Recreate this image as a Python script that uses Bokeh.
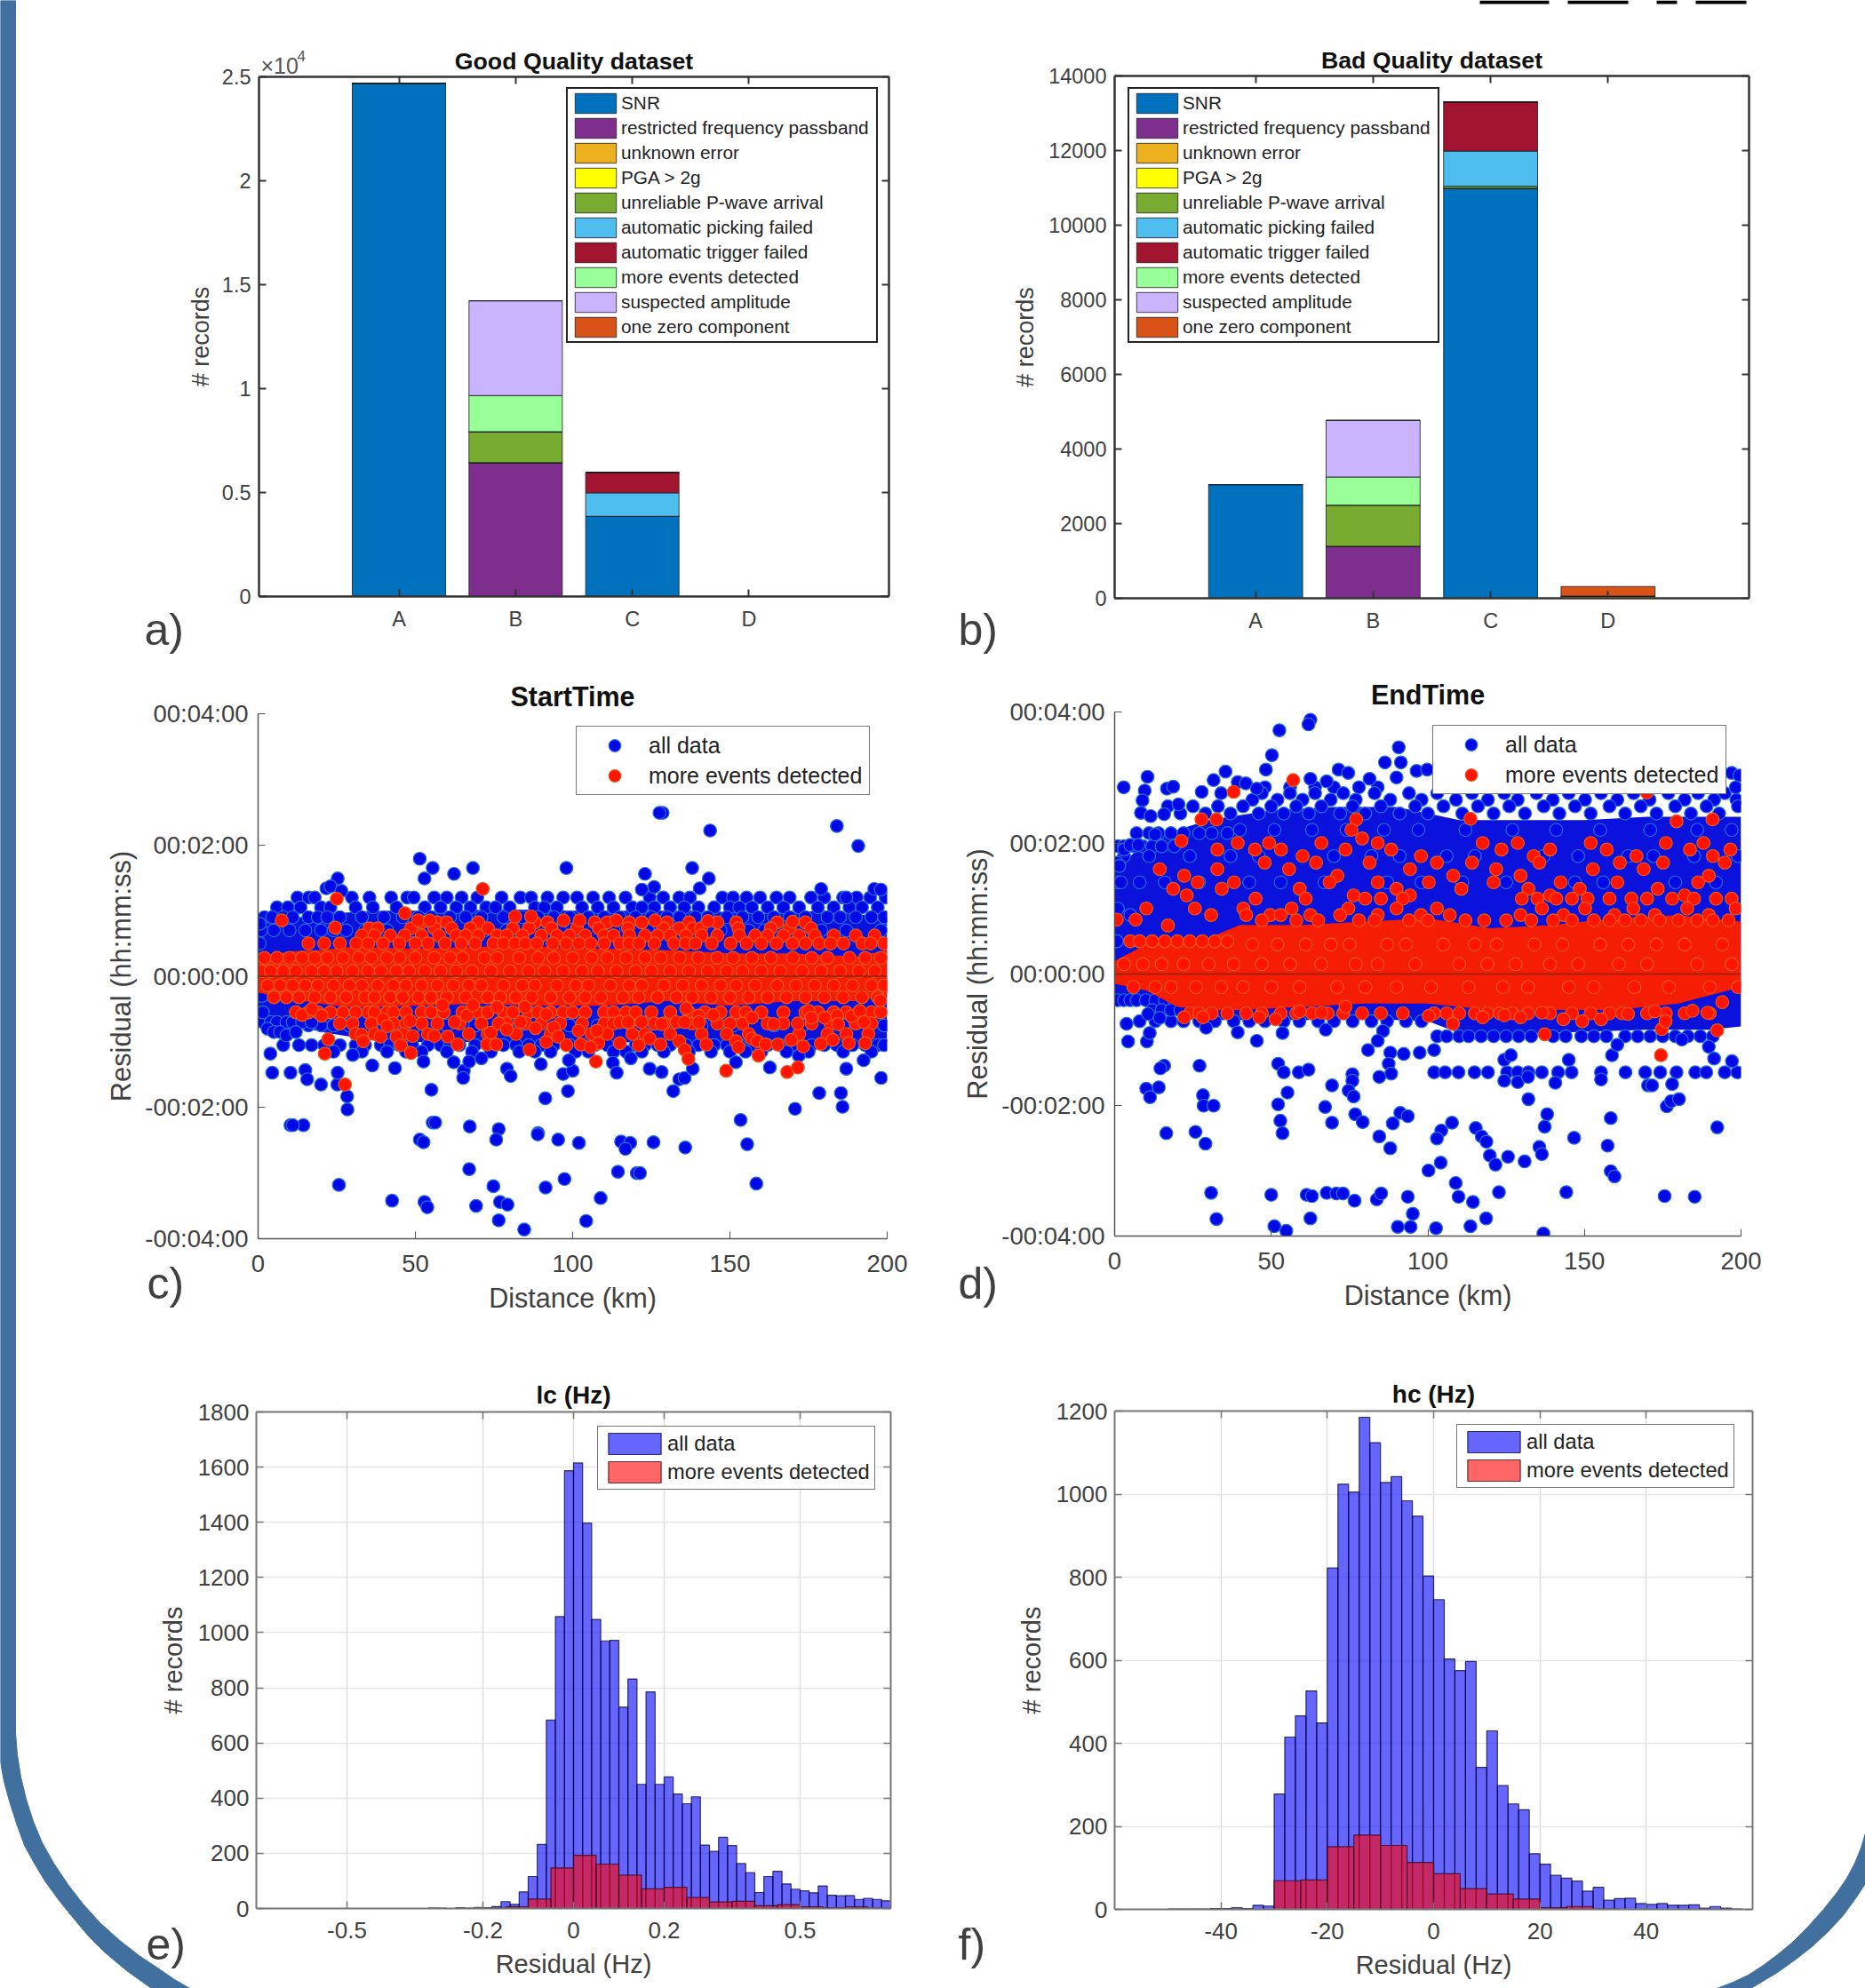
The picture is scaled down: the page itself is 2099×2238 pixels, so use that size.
from bokeh.plotting import figure
from bokeh.models import (Range1d, FixedTicker, LinearAxis, Legend, LegendItem, Span)
from bokeh.embed import file_html
from bokeh.resources import INLINE
from bokeh.core.properties import value
import numpy as np

FONT = "Liberation Sans"
# ---------------- stacked bars ----------------
cats = ["A", "B", "C", "D"]
reasons = ["SNR", "restricted frequency passband", "unknown error", "PGA > 2g", "unreliable P-wave arrival",
           "automatic picking failed", "automatic trigger failed", "more events detected", "suspected amplitude",
           "one zero component"]
reason_colors = ["#0072BD", "#7E2F8E", "#EDB120", "#FFFF00", "#77AC30", "#4DBEEE", "#A2142F", "#99FF99", "#CBB4FF", "#D95319"]
good_snr = [24697, 0, 3854, 0]
good_restricted = [0, 6437, 0, 0]
good_unknown = [0, 0, 0, 0]
good_pga = [0, 0, 0, 0]
good_unreliable = [0, 1493, 0, 0]
good_picking = [0, 0, 1130, 0]
good_trigger = [0, 0, 989, 0]
good_more = [0, 1735, 0, 0]
good_suspected = [0, 4560, 0, 0]
good_zero = [0, 0, 0, 0]
bad_snr = [3047, 0, 10986, 0]
bad_restricted = [0, 1394, 0, 0]
bad_unknown = [0, 0, 0, 60]
bad_pga = [0, 0, 0, 0]
bad_unreliable = [0, 1102, 57, 0]
bad_picking = [0, 0, 944, 0]
bad_trigger = [0, 0, 1316, 0]
bad_more = [0, 754, 0, 0]
bad_suspected = [0, 1518, 0, 0]
bad_zero = [0, 0, 0, 255]
good_ticks = [0, 5000, 10000, 15000, 20000, 25000]
good_labels = ["0", "0.5", "1", "1.5", "2", "2.5"]
bad_ticks = [0, 2000, 4000, 6000, 8000, 10000, 12000, 14000]

# ---------------- histograms ----------------
lc_all = [0]*19 + [2, 1, 0, 3, 1, 4, 3, 7, 25, 15, 60, 116, 232, 683, 1058, 1587, 1615, 1397, 1048, 970, 972, 730, 832, 450, 785,
          450, 477, 415, 380, 405, 230, 207, 258, 228, 163, 130, 58, 116, 135, 89, 70, 64, 57, 82, 48, 46, 47, 33, 37, 33, 28]
lc_more = [0]*10 + [1, 6, 34, 147, 193, 161, 121, 71, 77, 40, 24, 26, 10, 14, 6, 3, 6, 1]
hc_all = [0]*5 + [1, 1, 1, 1, 2, 2, 4, 2, 10, 8, 278, 415, 466, 526, 449, 822, 1024, 1005, 1185, 1124, 1028, 1042, 984, 947, 803,
          746, 603, 575, 597, 342, 430, 298, 254, 240, 134, 109, 82, 75, 68, 44, 53, 22, 26, 27, 14, 12, 14, 10, 10, 11, 3, 7, 3, 1, 0, 0]
hc_more = [0, 0, 0, 0, 0, 0, 69, 71, 151, 179, 154, 113, 86, 50, 37, 25, 4, 7, 1, 0, 0, 0, 0, 0]
lc_ticks = [-0.5, -0.2, 0, 0.2, 0.5]
lc_tick_labels = ["-0.5", "-0.2", "0", "0.2", "0.5"]
hc_ticks = [-40, -20, 0, 20, 40]

# ---------------- scatter panels (distance km, residual in minutes) ----------------
c_core_x = [0, 20, 40, 60, 80, 100, 120, 140, 160, 180, 200]
c_core_hi = [0.8, 0.95, 1.0, 1.0, 1.02, 1.0, 1.0, 1.0, 0.95, 1.0, 0.9]
c_core_lo = [-0.6, -0.85, -1.0, -1.0, -1.0, -1.05, -1.0, -1.05, -1.0, -1.0, -1.0]
c_red_core_x = [0, 10, 20, 30, 50, 70, 90, 110, 130, 150, 170, 190, 200]
c_red_core_hi = [0.28, 0.38, 0.4, 0.45, 0.42, 0.45, 0.45, 0.42, 0.4, 0.35, 0.35, 0.3, 0.4]
c_red_core_lo = [-0.25, -0.35, -0.42, -0.48, -0.45, -0.42, -0.45, -0.45, -0.38, -0.45, -0.38, -0.38, -0.3]
c_blue_row_120 = [12.5, 16.1, 18, 29.8, 35.4, 42.3, 47.4, 49.5, 56, 60, 64.7, 69.7, 77.4, 83.4, 86.8, 92, 97, 101.4, 106.5, 111.6,
                  116.8, 124.5, 128.8, 133.9, 137.3, 147.6, 151, 155.3, 159.6, 164.8, 169, 175.8, 180, 186, 190.3, 194.6, 199.5]
c_blue_row_105 = [6, 9.5, 13.5, 20, 23, 31, 36.5, 44, 53, 58, 63, 67.5, 72.5, 75.5, 80, 88, 91, 95, 103, 108, 113, 119, 122, 126, 131,
                  135.5, 140, 145, 150, 153, 157, 162, 167, 172, 178, 183, 188, 192, 197]
c_blue_row_090 = [2, 4.5, 8, 11, 16, 19, 22, 26, 33, 40, 46, 51, 55, 61, 66, 71, 78, 84, 89, 94, 99, 105, 110, 115, 120, 125, 130, 134,
                  139, 143, 149, 154, 159, 164, 169, 174, 181, 185, 190, 195, 199]
c_blue_row_070 = [1, 5, 10, 15, 20, 24, 28, 34, 41, 49, 58, 72, 79, 96, 113, 124, 147, 156, 161, 179, 187, 198]
c_blue_row_m075 = [3, 7, 11, 16, 20, 24, 29, 40, 50, 60, 69, 83, 99, 108, 124, 141, 151, 164, 173, 186, 199]
c_blue_row_m070 = [1.5, 4, 6, 9, 11, 14, 17]
c_blue_left = [0.5, 0.5, 1, 1.2, 1.5, 3, 5, 7, 9, 12]
c_blue_left_y = [0.8, 0.5, 0.15, -0.3, -0.55, -0.8, -0.85, -0.85, -0.9, -0.85]
c_blue_row_m105 = [8, 13, 17, 21, 26, 31, 34, 39, 42, 45, 49, 54, 58, 61, 64, 69, 73, 78, 82, 86, 90, 94, 99, 103, 107, 111, 115, 120,
                   123, 127, 131, 136, 140, 145, 149, 153, 157, 162, 166, 170, 176, 180, 184, 189, 193, 197, 199]
c_blue_row_m115 = [24, 33, 41, 47, 52, 60, 68, 74, 83, 88, 93, 101, 105, 113, 117, 122, 129, 137, 144, 150, 155, 160, 168, 175, 186, 195]
c_blue_up_x = [128.6, 127.6, 184, 143.7, 190.8, 51.4, 55.5, 52.9, 62.3, 68.3, 98, 123, 138, 143.3, 25.3, 125.9, 21.7, 179, 195.9, 140.4, 23, 26.5, 122, 187, 198]
c_blue_up_y = [2.49, 2.49, 2.29, 2.22, 1.985, 1.79, 1.65, 1.49, 1.56, 1.65, 1.65, 1.56, 1.65, 1.49, 1.49, 1.36, 1.34, 1.33, 1.33, 1.34, 1.37, 1.3, 1.32, 1.2, 1.32]
c_blue_lo_x = [3.9, 4.5, 10.3, 15, 15.6, 20, 25.2, 25.3, 28.3, 28.4, 10.3, 14.4, 11, 36.3, 43.5, 30.1, 52.6, 55.1, 62.2, 65.4, 65.2, 67.1, 71, 79.1, 80.3, 89.9, 91.3, 97, 100, 98.5, 98.8, 112.8, 114, 118.5, 124.5, 128.3, 133.9, 135.6, 132, 138.2, 151.9, 162.7, 171.9, 178.4, 185.3, 185.8, 187, 192.5, 198.1, 170.7, 153.4,
               55.5, 56.3, 51.4, 52.6, 67.3, 76.5, 75.7, 89, 88.9, 95.4, 102, 115.4, 118.3, 116.8, 125.7, 135.8, 155.5, 67.1, 97.4, 114.4, 120.4, 121.4, 25.7, 74.8, 91.4, 158.4, 42.6, 52.9, 53.8, 69.3, 76.9, 79.3, 108.9, 76.5, 104.3, 84.6]
c_blue_lo_y = [-1.18, -1.47, -1.47, -1.43, -1.57, -1.65, -1.65, -1.47, -1.83, -2.03, -2.27, -2.27, -2.27, -1.36, -1.40, -1.2, -1.30, -1.73, -1.31, -1.44, -1.55, -1.3, -1.25, -1.41, -1.52, -1.34, -1.86, -1.49, -1.44, -1.75, -1.28, -1.32, -1.47, -1.25, -1.41, -1.46, -1.57, -1.55, -1.75, -1.41, -1.31, -1.39, -1.21, -1.78, -1.78, -1.99, -1.41, -1.28, -1.55, -2.02, -2.19,
               -2.23, -2.23, -2.49, -2.53, -2.29, -2.33, -2.49, -2.39, -2.41, -2.49, -2.54, -2.52, -2.54, -2.63, -2.53, -2.61, -2.56, -2.94, -3.09, -2.98, -3.0, -3.0, -3.18, -3.2, -3.22, -3.16, -3.42, -3.44, -3.52, -3.5, -3.44, -3.48, -3.38, -3.72, -3.73, -3.86]
c_red_row_082 = [52, 57, 60, 70, 88, 92, 107, 111, 118, 122, 130, 137, 146, 152, 165, 174]
c_red_row_073 = [35.4, 38, 48.6, 56, 61.5, 67.5, 73.1, 81, 86.1, 93.3, 101.4, 108.3, 117.6, 128.8, 133.9, 138.2, 140.8, 152.7, 163, 169, 175.8]
c_red_row_062 = [33, 37, 42, 46.5, 52, 57.5, 63, 66, 70, 76, 79, 84, 90, 95, 99, 104, 110, 113, 118, 123, 127, 131, 136, 141, 146, 153, 158, 162, 167, 172, 177, 183, 190, 196]
c_red_row_050 = [16, 21, 26, 31.2, 35, 39.7, 44.9, 50, 54, 59.4, 64.6, 69, 74.8, 78, 81.7, 85, 88.6, 93.7, 98, 102, 105.7, 110, 115, 118, 121.1, 126, 132.2, 136, 139, 144.2, 150.2, 155.3, 160, 164.8, 169.9, 174, 178.4, 182, 186.1, 192.1, 194.7, 199]
c_red_row_028 = [2, 6, 10, 14, 18, 22, 27, 32, 36, 41, 45, 50, 56, 61, 65, 72, 76, 83, 89, 94, 100, 106, 111, 117, 123, 128, 134, 140, 146, 151, 157, 163, 170, 176, 181, 188, 193, 198]
c_red_row_008 = [1, 4, 8, 12, 17, 21, 25, 30, 35, 39, 44, 48, 53, 58, 63, 68, 74, 80, 86, 91, 97, 103, 108, 114, 120, 125, 131, 137, 143, 149, 154, 160, 166, 173, 179, 185, 191, 196]
c_red_row_m014 = [3, 7, 11, 15, 19, 24, 29, 33, 38, 43, 47, 52, 57, 62, 67, 71, 78, 84, 88, 95, 101, 105, 112, 118, 122, 129, 135, 141, 147, 152, 158, 165, 171, 177, 183, 189, 195, 199]
c_red_row_m032 = [5, 9, 13, 18, 23, 28, 34, 37, 42, 46, 51, 55, 60, 66, 73, 77, 82, 87, 93, 99, 104, 109, 116, 121, 127, 133, 138, 144, 150, 156, 162, 168, 174, 180, 186, 192, 197]
c_red_row_m055 = [12, 16, 19, 23, 27, 31, 35, 37, 41, 43, 47, 52, 55, 59, 65, 70, 73, 78, 81, 86, 89, 93, 97, 100, 104, 110, 113, 117, 120, 125, 131, 137, 142, 147, 152, 155, 160, 167, 174, 178, 183, 187, 191, 195, 198]
c_red_row_m072 = [26, 30, 36, 43, 47, 52, 57, 64, 71, 79, 85, 90, 96, 103, 110, 113, 118, 126, 129, 138, 146, 150, 154, 162, 167, 176, 182, 190, 195]
c_red_row_m088 = [31, 37, 46, 54, 67, 73, 82, 93, 106, 111, 119, 123, 131, 141, 149, 156, 172, 181, 187, 194]
c_red_x = [71.4, 25, 7.5, 46.7, 24.5, 81.7, 86.8, 143, 169.9, 50.9, 54.6, 97.1, 102.2, 113.9, 126.2,
           14, 17.1, 20.2, 22.3, 21.2, 27.6, 32.9, 33.4, 38.9, 39.7, 41.1, 44, 45.4, 48.6, 48.3, 49.1, 56, 60.3, 63.4, 58.6, 62.5, 66.3, 68.3, 72.8, 75.7, 74, 76.5, 79.1, 76, 84.8, 83.4, 86.3, 88.2, 91.6, 91.6, 94, 98, 95.4, 101.9, 102.6, 107.4, 107.7, 108.2, 105.7, 115, 115, 117.6, 121, 121.9, 124.5, 128.3, 127.9, 133, 135.6, 133.9, 135.6, 136.8, 136.1, 140, 140.2, 142.5, 144.7, 148.8, 151.9, 152.7, 157, 157, 158.7, 159.1, 161.3, 165.2, 163.9, 168.2, 171.6, 169.5, 173.3, 171.6, 175, 175.9, 180.1, 178.9, 182.7, 184.1, 184.4, 187.8, 188.7, 191.3, 193, 192.6, 197.8]
c_red_y = [1.33, 1.18, 0.85, 0.96, 0.74, 0.91, 0.91, 0.84, 0.83, 0.85, 0.85, 0.85, 0.85, 0.85, 0.85,
           -0.59, -0.5, -0.6, -0.96, -1.18, -1.65, -0.89, -0.99, -0.92, -0.66, -0.76, -0.92, -1.05, -1.17, -0.68, -0.91, -0.91, -0.92, -1.04, -0.44, -0.7, -0.6, -0.44, -1.04, -1.04, -0.86, -0.72, -0.81, -0.47, -0.47, -0.7, -1.12, -0.79, -1.0, -0.58, -0.78, -1.05, -0.92, -0.83, -1.04, -1.3, -0.83, -1.02, -1.08, -0.7, -1.02, -0.7, -1.05, -0.7, -0.95, -0.73, -1.04, -0.7, -0.7, -0.99, -1.12, -1.26, -0.49, -0.6, -0.7, -1.04, -0.59, -1.44, -0.99, -1.08, -0.63, -0.95, -0.99, -1.21, -1.04, -1.04, -0.73, -1.46, -1.39, -0.97, -1.07, -0.72, -0.53, -0.63, -0.63, -1.03, -0.97, -0.6, -0.73, -1.02, -0.61, -0.53, -1.02, -0.7, -0.37]

d_core_x = [0, 10, 20, 30, 50, 70, 90, 100, 110, 130, 150, 170, 190, 200]
d_core_hi = [1.6, 2.0, 2.2, 2.35, 2.5, 2.55, 2.55, 2.45, 2.35, 2.35, 2.35, 2.4, 2.4, 2.4]
d_core_lo = [-0.3, -0.4, -0.65, -0.7, -0.7, -0.7, -0.7, -0.72, -0.9, -0.92, -0.88, -0.85, -0.85, -0.8]
d_red_core_x = [0, 10, 20, 30, 40, 60, 80, 100, 120, 140, 160, 180, 200]
d_red_core_hi = [0.2, 0.45, 0.5, 0.55, 0.75, 0.75, 0.8, 0.85, 0.7, 0.75, 0.85, 0.9, 0.8]
d_red_core_lo = [-0.15, -0.25, -0.5, -0.55, -0.55, -0.5, -0.45, -0.45, -0.55, -0.55, -0.55, -0.45, -0.2]
d_blue_row_285 = [48, 56, 64, 70, 78, 84, 108, 118, 128, 140, 150, 165, 178, 192]
d_blue_row_276 = [34, 47, 56, 64, 73, 83, 94, 103, 114.1, 124.4, 134.7, 145, 155.3, 165.7, 176.8, 186.3, 194.8]
d_blue_row_266 = [44, 52, 60, 69, 77, 88, 98, 109, 119.2, 128.7, 139.9, 150.2, 160.5, 170.8, 182, 191.4, 198.5]
d_blue_row_256 = [17, 25, 33, 41, 50, 58, 66, 76, 85, 96, 105, 116, 126, 137, 147, 158, 168, 179, 189, 199]
d_blue_row_245 = [21, 29, 37, 46, 54, 62, 72, 80, 91, 100, 111, 121, 131, 142, 152, 163, 173, 184, 193]
d_blue_row_215 = [7, 11, 14, 18, 22, 27, 31, 36]
d_blue_row_195 = [1, 3, 6, 9, 12, 15, 19]
d_blue_row_220 = [40, 51, 63, 74, 86, 97, 112, 127, 141, 155, 171, 186, 197]
d_blue_row_180 = [3, 11, 24, 37, 46, 70, 82, 91, 106, 115, 137, 148, 164, 172, 185, 199]
d_blue_row_140 = [1, 8, 16, 27, 43, 53, 67, 87, 98, 111, 125, 147, 156, 179, 192]
d_blue_left = [0.7, 1.5, 3, 5, 7.6, 12.9, 2, 1, 0.7, 5]
d_blue_left_y = [1.7, 1.65, 1.9, 1.97, 1.97, 2.13, 1.4, 1.0, 0.5, 0.9]
d_blue_up_x = [62.5, 61.9, 52.6, 50.2, 48.3, 90.7, 86.3, 91.4, 90, 96.4, 99.8, 104, 71.5, 74.6, 35.4, 31.6, 10.5, 2.9, 9.6, 8.9, 16.7, 18.7, 27.8, 39.3, 41.9, 45.4, 197, 199.5, 198.3, 81.4, 62.5, 67.7, 20.4, 8.4, 11.5, 15.8]
d_blue_up_y = [3.88, 3.81, 3.72, 3.34, 3.12, 3.46, 3.23, 3.23, 3.0, 3.1, 3.12, 3.1, 3.12, 3.07, 3.09, 2.96, 3.01, 2.85, 2.8, 2.65, 2.83, 2.86, 2.78, 2.93, 2.91, 2.83, 3.07, 3.03, 2.85, 2.98, 2.98, 2.94, 2.59, 2.46, 2.41, 2.44]
d_blue_row_m150 = [102, 105.5, 109.8, 114.9, 119.2, 125.3, 128.7, 132.1, 136.4, 141.6, 145.9, 155.3, 163.1, 169.4, 174.2, 179.4, 185.4, 188.9, 194.8, 198.8]
d_blue_row_m095 = [103, 106, 110, 113, 117, 121, 125, 129, 133, 140, 144, 149, 153, 157, 163, 167, 171, 175, 179, 183, 187, 191]
d_blue_row_m072 = [8, 13, 18, 22, 27, 32, 38, 43, 48, 54, 59, 65, 70, 76, 82, 87, 93, 98]
d_blue_row_m040 = [1, 3, 5, 7, 10, 13, 16, 19, 22]
d_blue_row_m055 = [12, 15, 18, 21]
d_blue_lo_x = [3.8, 4.3, 10.3, 11.2, 10.7, 14.4, 29.2, 39.3, 45.4, 53.6, 67.4, 85.7, 84, 80.9, 88, 92.3, 97.4, 102, 87.5, 88.3, 84.5, 15.8, 14.6, 27.1, 52.2, 54, 58.8, 61.9, 69.4, 75.9, 75.9, 74.7, 76.3, 10.1, 14.1, 11.3, 55.2, 52.2, 28.2, 28.4, 31.6, 67.2, 52.9, 53.6, 16.5, 25.8, 29, 69.4, 76.8, 79.2, 84.5, 88.8, 91.2, 93.6, 88, 132.1, 138.1, 137.3, 146.7, 135.6, 136.4, 130.9, 125.6, 115.3, 117.2, 118.7, 119.8, 121.6, 107.7, 104.3, 102.9, 104.1, 100.2, 158.4, 157.4, 158.4, 159.6, 108.9, 109.8, 114.4, 122.7, 144.2, 175.6, 185.2, 30.8, 50, 61.3, 63, 67.7, 70.8, 72.9, 76.6, 83.7, 85.1, 93.6, 95.2, 62.5, 32.5, 51, 54.8, 90.4, 94.5, 102.6, 113.6, 118.6, 136.9, 192.4, 176.3, 177.7, 180.2, 178, 124.4, 128.7, 140.7, 155.3, 170.3, 171.6, 132, 124.4, 126.5, 145, 158.8, 160.5, 181.1, 189.7, 191.4, 197.1]
d_blue_lo_y = [-0.76, -1.03, -1.03, -0.9, -0.61, -0.67, -0.82, -0.89, -1.02, -0.9, -0.85, -0.87, -1.02, -1.16, -1.2, -1.22, -1.2, -1.16, -1.37, -1.52, -1.57, -1.4, -1.44, -1.4, -1.37, -1.5, -1.5, -1.46, -1.7, -1.53, -1.63, -1.78, -1.87, -1.75, -1.73, -1.88, -1.81, -1.99, -1.85, -2.01, -2.01, -2.03, -2.24, -2.43, -2.43, -2.41, -2.59, -2.27, -2.14, -2.26, -2.48, -2.28, -2.12, -2.17, -2.66, -1.91, -2.14, -2.33, -2.5, -2.64, -2.75, -2.86, -2.79, -2.35, -2.48, -2.56, -2.77, -2.91, -2.27, -2.39, -2.51, -2.88, -3.0, -2.2, -2.62, -3.01, -3.09, -3.19, -3.4, -3.48, -3.33, -3.33, -3.39, -3.4, -3.34, -3.37, -3.37, -3.39, -3.34, -3.35, -3.35, -3.46, -3.44, -3.35, -3.4, -3.66, -3.73, -3.74, -3.85, -3.92, -3.86, -3.86, -3.88, -3.85, -3.73, -3.96, -2.34, -2.02, -1.94, -1.91, -1.68, -1.63, -1.65, -1.66, -1.61, -1.7, -1.7, -1.57, -1.31, -1.24, -1.31, -1.24, -1.08, -1.0, -1.11, -1.29, -1.33]
d_red_row_200 = [39.3, 49.3, 66, 84, 117.5, 128.7, 152, 176, 188]
d_red_row_190 = [32.8, 44.8, 53.1, 73.7, 88.3, 123.5, 139, 157.1, 183.7, 196.6]
d_red_row_180 = [60, 97.8, 133.8, 166.6, 191]
d_red_row_170 = [47.9, 64.3, 81.4, 102.9, 114.1, 135.6, 161.3, 175.1, 194.8]
d_red_row_160 = [14.4, 32.8, 55.7, 94.3, 121.8, 152.7, 168.9]
d_red_row_150 = [22.2, 71.1, 108.1, 129.6, 189.7]
d_red_row_140 = [26.5, 38.1, 68.6, 84, 100.3, 121, 142.4, 160.5, 186.3]
d_red_row_130 = [18.7, 34.2, 59.1, 90, 110.7, 132.1, 148.5, 173.4]
d_red_row_120 = [23, 76.3, 94.3, 139, 182]
d_red_row_115 = [45, 61, 80, 85, 92, 130, 135, 141, 146, 151, 158, 165, 170, 178, 185, 192, 197]
d_red_row_100 = [10.1, 25.6, 41.1, 56.5, 74.6, 90, 102.9, 136.4, 150.2, 165.6, 182.8, 198.3]
d_red_row_090 = [30.8, 42, 49.7, 53, 62.5, 72, 84, 97.8, 107, 129.6, 143.3, 159.6, 172.5, 189.7]
d_red_row_082 = [47, 58, 65, 78, 83, 94, 100, 112, 118, 125, 133, 140, 146, 153, 158, 163, 168, 174, 180, 186, 191, 196]
d_red_row_050 = [5, 8, 12, 16, 20, 24, 28, 32, 36]
d_red_row_045 = [44, 52, 61, 69, 75, 87, 93, 105, 115, 122, 134, 143, 155, 164, 173, 182, 194]
d_red_row_015 = [3, 9, 15, 22, 30, 38, 47, 56, 66, 77, 84, 96, 110, 119, 128, 139, 148, 161, 170, 186, 197]
d_red_row_m020 = [6, 13, 18, 26, 34, 41, 50, 59, 71, 80, 90, 101, 113, 124, 132, 145, 153, 166, 177, 190, 199]
d_red_row_m060 = [24, 27, 31, 36, 42, 47, 53, 58, 63, 68, 73, 79, 85, 92, 102, 106, 110, 115, 119, 123, 127, 132, 139, 146, 152, 158, 162, 170, 176, 182, 190]
d_red_x = [57, 38, 27.7, 32.5, 21.3, 113.6, 77.1, 75.6, 79, 179.4, 190.9, 169.9, 0.7, 6.7, 17,
           137.3, 174.7, 175.9, 174.4, 192.4, 189.3, 194, 100.3, 108, 117.5, 124.4, 129.6, 136.4, 143.3, 149.3, 155.3, 163.9, 172.5, 184.5, 46.2, 51.4, 22.2, 28.2, 59.1, 66, 73.7]
d_red_y = [2.96, 2.78, 2.36, 2.36, 2.03, 2.37, 2.36, 2.2, 2.07, 2.33, 2.36, 2.77, 0.83, 0.83, 0.74,
           -0.92, -0.84, -0.72, -1.24, -0.86, -0.59, -0.43, -0.64, -0.76, -0.66, -0.63, -0.66, -0.59, -0.69, -0.72, -0.69, -0.61, -0.57, -0.56, -0.66, -0.69, -0.66, -0.66, -0.57, -0.59, -0.5]
time_ticks = [-4, -2, 0, 2, 4]
time_labels = ["-00:04:00", "-00:02:00", "00:00:00", "00:02:00", "00:04:00"]
dist_ticks = [0, 50, 100, 150, 200]

# ---------------- page decoration ----------------
band_left_x = [0, 17, 17, 19, 23, 29, 37, 47, 60, 76, 93, 112, 133, 156, 180, 196, 213, 170, 142, 117, 99, 83, 66, 50, 38, 27, 18, 10, 4, 0]
band_left_y = [0, 0, 1950, 1975, 2000, 2025, 2050, 2074, 2097, 2121, 2143, 2164, 2183, 2201, 2217, 2228, 2238, 2238, 2218, 2197, 2179, 2160, 2139, 2117, 2097, 2077, 2052, 2027, 2005, 1983]
band_right_x = [2099, 2094, 2087, 2078, 2067, 2051, 2033, 2017, 2000, 1984, 1967, 1950, 1932, 1970, 1985, 2000, 2021, 2040, 2057, 2073, 2087, 2099]
band_right_y = [2063, 2080, 2097, 2114, 2130, 2150, 2170, 2186, 2200, 2212, 2223, 2231, 2238, 2238, 2229, 2220, 2205, 2190, 2174, 2157, 2138, 2120]
BAND = "#41709F"
TXT = "#404040"


def place(fig, left, top):
    fig.styles = {"position": "absolute", "left": f"{left}px", "top": f"{top}px"}
    return fig


def panel(fl, fr, ft, fb, xr, yr, ml=135, mr=16, mt=52, mb=90):
    p = figure(width=int(fr-fl+ml+mr), height=int(fb-ft+mt+mb), x_range=Range1d(*xr), y_range=Range1d(*yr),
               output_backend="svg", toolbar_location=None, min_border_left=ml, min_border_right=mr,
               min_border_top=mt, min_border_bottom=mb, border_fill_color=None, background_fill_color=None)
    place(p, fl-ml, ft-mt)
    return p


def style_axis(ax, ticks, labels, size, color="#333333", lw=2, standoff=8):
    ax.ticker = FixedTicker(ticks=ticks)
    ax.major_label_overrides = {t: l for t, l in zip(ticks, labels)}
    ax.major_label_text_font = FONT
    ax.major_label_text_font_size = f"{size}px"
    ax.major_label_text_color = TXT
    ax.major_label_standoff = standoff
    ax.axis_line_color = color
    ax.axis_line_width = lw
    ax.major_tick_line_color = color
    ax.major_tick_line_width = max(1, lw-0.5)
    ax.major_tick_in = 8
    ax.major_tick_out = 0
    ax.minor_tick_line_color = None
    ax.axis_label_text_font = FONT
    ax.axis_label_text_font_style = "normal"
    ax.axis_label_text_color = TXT


def box_axes(p, xticks, yticks, color, lw):
    ra = LinearAxis(); ta = LinearAxis()
    style_axis(ra, yticks, [""]*len(yticks), 1, color, lw, 0)
    style_axis(ta, xticks, [""]*len(xticks), 1, color, lw, 0)
    p.add_layout(ra, "right"); p.add_layout(ta, "above")


def titled(p, text, size, standoff=5):
    p.title.text = text
    p.title.align = "center"
    p.title.text_font = FONT
    p.title.text_font_size = f"{size}px"
    p.title.text_font_style = "bold"
    p.title.text_color = "#111111"
    p.title.standoff = standoff


def bars(p, layers):
    base = np.zeros(4)
    rs = []
    xs = [1, 2, 3, 4]
    for vals, c in zip(layers, reason_colors):
        r = p.vbar(x=xs, width=0.8, bottom=base.tolist(), top=(base+np.array(vals)).tolist(),
                   fill_color=c, line_color="#1a1a1a", line_width=1, line_alpha=0.8)
        base = base+np.array(vals)
        rs.append(r)
    return rs


def legend(p, items, loc, size, gw, gh, spacing, padding, standoff, bc, blw, lw_min):
    lg = Legend(items=[LegendItem(label=value(l), renderers=[r]) for l, r in items], location=loc,
                label_text_font=FONT, label_text_font_size=f"{size}px", label_text_color="#222222",
                glyph_width=gw, glyph_height=gh, spacing=spacing, padding=padding, margin=0, label_width=lw_min,
                label_standoff=standoff, border_line_color=bc, border_line_alpha=1, border_line_width=blw,
                background_fill_color="white", background_fill_alpha=1)
    p.add_layout(lg, "center")


# panel a
pa = panel(291, 1000, 86, 671, (-0.2, 5.2), (0, 25000))
style_axis(pa.xaxis[0], [1, 2, 3, 4], cats, 23.5, lw=2.5, standoff=12)
style_axis(pa.yaxis[0], good_ticks, good_labels, 23.5, lw=2.5, standoff=9)
pa.yaxis[0].axis_label = "# records"; pa.yaxis[0].axis_label_text_font_size = "27px"; pa.yaxis[0].axis_label_standoff = 6
box_axes(pa, [1, 2, 3, 4], good_ticks, "#333333", 2.5)
pa.grid.visible = False; pa.outline_line_color = None
titled(pa, "Good Quality dataset", 26.7)
ra = bars(pa, [good_snr, good_restricted, good_unknown, good_pga, good_unreliable, good_picking, good_trigger, good_more, good_suspected, good_zero])
legend(pa, list(zip(reasons, ra)), (346, 285), 20.8, 58, 28, 0, 2, 0, "#222222", 2.5, 285)

# panel b
pb = panel(1254, 1968, 85, 673, (-0.2, 5.2), (0, 14000), ml=145)
style_axis(pb.xaxis[0], [1, 2, 3, 4], cats, 23.5, lw=2.5, standoff=12)
style_axis(pb.yaxis[0], bad_ticks, [str(t) for t in bad_ticks], 23.5, lw=2.5, standoff=9)
pb.yaxis[0].axis_label = "# records"; pb.yaxis[0].axis_label_text_font_size = "27px"; pb.yaxis[0].axis_label_standoff = 8
box_axes(pb, [1, 2, 3, 4], bad_ticks, "#333333", 2.5)
pb.grid.visible = False; pb.outline_line_color = None
titled(pb, "Bad Quality dataset", 26.7)
rb = bars(pb, [bad_snr, bad_restricted, bad_unknown, bad_pga, bad_unreliable, bad_picking, bad_trigger, bad_more, bad_suspected, bad_zero])
legend(pb, list(zip(reasons, rb)), (15, 287), 20.8, 58, 28, 0, 2, 0, "#222222", 2.5, 285)


def scatter_panel(fl, fr, ft, fb, title, core, red_core, blue_rows, red_rows, loc):
    p = panel(fl, fr, ft, fb, (0, 200), (-4, 4), ml=180, mr=40, mt=52, mb=95)
    style_axis(p.xaxis[0], dist_ticks, [str(t) for t in dist_ticks], 27.5, "#555555", 1.5, standoff=18)
    style_axis(p.yaxis[0], time_ticks, time_labels, 27.5, "#555555", 1.5, standoff=11)
    p.xaxis[0].axis_label = "Distance (km)"; p.xaxis[0].axis_label_text_font_size = "30.6px"; p.xaxis[0].axis_label_standoff = 9
    p.yaxis[0].axis_label = "Residual (hh:mm:ss)"; p.yaxis[0].axis_label_text_font_size = "30.8px"; p.yaxis[0].axis_label_standoff = 6
    p.grid.visible = False; p.outline_line_color = None
    titled(p, title, 30.5, 6)
    p.varea(x=core[0], y1=core[1], y2=core[2], fill_color="#0a12dc")
    xs = sum([r[0] for r in blue_rows], []); ys = sum([r[1] for r in blue_rows], [])
    rb_ = p.scatter(xs, ys, size=14.5, fill_color="#0008E6", line_color="#2A6EDC", line_width=1.2)
    p.varea(x=red_core[0], y1=red_core[1], y2=red_core[2], fill_color="#F51E05")
    xs = sum([r[0] for r in red_rows], []); ys = sum([r[1] for r in red_rows], [])
    rr_ = p.scatter(xs, ys, size=14.5, fill_color="#FF1400", line_color="#E65A1E", line_width=1.2)
    p.add_layout(Span(location=0, dimension="width", line_color="#7A2010", line_alpha=0.65, line_width=2))
    legend(p, [("all data", rb_), ("more events detected", rr_)], loc, 25, 77, 34, 0, 4, 0, "#777777", 1.5, 244)
    return p


def row(xs, y):
    return (xs, [y]*len(xs))


pc = scatter_panel(290, 998, 803, 1394, "StartTime",
                   (c_core_x, c_core_hi, c_core_lo), (c_red_core_x, c_red_core_hi, c_red_core_lo),
                   [row(c_blue_row_120, 1.2), row(c_blue_row_105, 1.05), row(c_blue_row_090, 0.9), row(c_blue_row_070, 0.7), row(c_blue_row_m075, -0.75), row(c_blue_row_m070, -0.7),
                    row(c_blue_row_m105, -1.05), row(c_blue_row_m115, -1.15),
                    (c_blue_left, c_blue_left_y), (c_blue_up_x, c_blue_up_y), (c_blue_lo_x, c_blue_lo_y)],
                   [row(c_red_row_082, 0.82), row(c_red_row_073, 0.73), row(c_red_row_062, 0.62), row(c_red_row_050, 0.5),
                    row(c_red_row_028, 0.28), row(c_red_row_008, 0.08), row(c_red_row_m014, -0.14), row(c_red_row_m032, -0.32),
                    row(c_red_row_m055, -0.55), row(c_red_row_m072, -0.72), row(c_red_row_m088, -0.88), (c_red_x, c_red_y)], (358, 499))
pd_ = scatter_panel(1254, 1959, 801, 1391, "EndTime",
                    (d_core_x, d_core_hi, d_core_lo), (d_red_core_x, d_red_core_hi, d_red_core_lo),
                    [row(d_blue_row_285, 2.85), row(d_blue_row_276, 2.76), row(d_blue_row_266, 2.66), row(d_blue_row_256, 2.56), row(d_blue_row_245, 2.45),
                     row(d_blue_row_220, 2.2), row(d_blue_row_215, 2.15), row(d_blue_row_195, 1.95), row(d_blue_row_180, 1.8), row(d_blue_row_140, 1.4),
                     row(d_blue_row_m150, -1.5), row(d_blue_row_m095, -0.95), row(d_blue_row_m072, -0.72), row(d_blue_row_m040, -0.4), row(d_blue_row_m055, -0.55),
                     (d_blue_left, d_blue_left_y), (d_blue_up_x, d_blue_up_y), (d_blue_lo_x, d_blue_lo_y)],
                    [row(d_red_row_200, 2.0), row(d_red_row_190, 1.9), row(d_red_row_180, 1.8), row(d_red_row_170, 1.7), row(d_red_row_160, 1.6), row(d_red_row_150, 1.5),
                     row(d_red_row_140, 1.4), row(d_red_row_130, 1.3), row(d_red_row_120, 1.2), row(d_red_row_115, 1.15), row(d_red_row_100, 1.0), row(d_red_row_090, 0.9), row(d_red_row_082, 0.82),
                     row(d_red_row_050, 0.5), row(d_red_row_045, 0.45), row(d_red_row_015, 0.15), row(d_red_row_m020, -0.2), row(d_red_row_m060, -0.6), (d_red_x, d_red_y)], (358, 497))


def hist_panel(fl, fr, ft, fb, xr, ymax, yticks, xticks, xlabels, edges_all, all_vals, edges_more, more_vals, title, loc):
    p = panel(fl, fr, ft, fb, xr, (0, ymax), ml=135, mt=52, mb=90)
    style_axis(p.xaxis[0], xticks, xlabels, 26, "#777777", 2, standoff=15)
    style_axis(p.yaxis[0], yticks, [str(t) for t in yticks], 26, "#777777", 2)
    p.xaxis[0].axis_label = "Residual (Hz)"; p.xaxis[0].axis_label_text_font_size = "29px"; p.xaxis[0].axis_label_standoff = 10
    p.yaxis[0].axis_label = "# records"; p.yaxis[0].axis_label_text_font_size = "29px"; p.yaxis[0].axis_label_standoff = 9
    box_axes(p, xticks, yticks, "#777777", 2)
    p.outline_line_color = None
    p.xgrid[0].ticker = FixedTicker(ticks=xticks); p.ygrid[0].ticker = FixedTicker(ticks=yticks)
    p.xgrid.grid_line_color = "#DDDDDD"; p.ygrid.grid_line_color = "#E6E6E6"
    p.xgrid.grid_line_width = 1.5; p.ygrid.grid_line_width = 1.5
    titled(p, title, 28, 7)
    ra_ = p.quad(left=edges_all[:-1], right=edges_all[1:], bottom=0, top=all_vals, fill_color="#0000FF", fill_alpha=0.6,
                 line_color="#000033", line_alpha=0.75, line_width=1.2)
    rm_ = p.quad(left=edges_more[:-1], right=edges_more[1:], bottom=0, top=more_vals, fill_color="#FF0000", fill_alpha=0.6,
                 line_color="#300010", line_alpha=0.75, line_width=1.2)
    legend(p, [("all data", ra_), ("more events detected", rm_)], loc, 23.7, 74, 30, 2, 4, 0, "#777777", 1.5, 229)
    return p


lc_edges = [round(-0.7 + 0.02*i, 2) for i in range(len(lc_all)+1)]
lc_more_edges = [round(-0.7 + 0.05*i, 2) for i in range(len(lc_more)+1)]
hc_edges = [-60 + 2*i for i in range(len(hc_all)+1)]
hc_more_edges = [-60 + 5*i for i in range(len(hc_more)+1)]
pe = hist_panel(288, 1002, 1589, 2148, (-0.7, 0.7), 1800, list(range(0, 2000, 200)), lc_ticks, lc_tick_labels,
                lc_edges, lc_all, lc_more_edges, lc_more, "lc (Hz)", (384, 471))
pf = hist_panel(1254, 1972, 1588, 2149, (-60, 60), 1200, list(range(0, 1400, 200)), hc_ticks, [str(t) for t in hc_ticks],
                hc_edges, hc_all, hc_more_edges, hc_more, "hc (Hz)", (385, 474))

# background page
bg = figure(width=2099, height=2238, x_range=Range1d(0, 2099), y_range=Range1d(2238, 0), output_backend="svg",
            toolbar_location=None, min_border=0, outline_line_color=None, border_fill_color=None)
bg.axis.visible = False; bg.grid.visible = False
place(bg, 0, 0)
bg.patch(band_left_x, band_left_y, fill_color=BAND, line_color=BAND)
bg.patch(band_right_x, band_right_y, fill_color=BAND, line_color=BAND)
top_frag_l = [1665, 1764, 1864, 1908]
top_frag_r = [1743, 1832, 1887, 1965]
bg.quad(left=top_frag_l, right=top_frag_r, top=[0]*4, bottom=[4]*4, fill_color="black", line_color=None)
tag_text = ["a)", "b)", "c)", "d)", "e)", "f)"]
tag_x = [162, 1078, 165, 1078, 164, 1078]
tag_y = [708, 708, 1444, 1444, 2188, 2188]
bg.text(tag_x, tag_y, text=tag_text, text_font=value(FONT), text_font_size="50px", text_color="#404040", text_baseline="alphabetic")
bg.text([293], [73], text=["×10"], text_font=value(FONT), text_font_size="25px", text_color="#555555", text_baseline="alphabetic")
bg.text([334], [62], text=["4"], text_font=value(FONT), text_font_size="17px", text_color="#555555", text_baseline="alphabetic")

open("out.html", "w").write(file_html((bg, pa, pb, pc, pd_, pe, pf), INLINE))
